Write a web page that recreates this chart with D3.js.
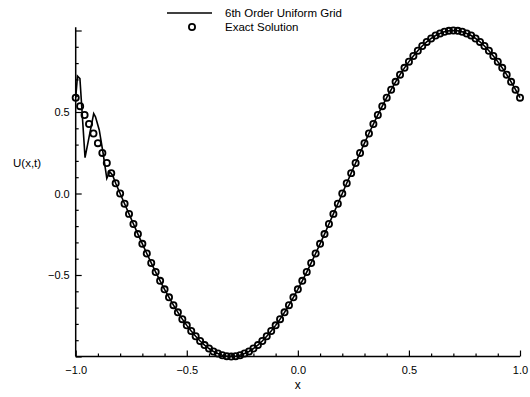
<!DOCTYPE html>
<html>
<head>
<meta charset="utf-8">
<script src="https://cdn.jsdelivr.net/npm/d3@7"></script>
<style>
  html, body { margin: 0; padding: 0; background: #fff; }
  svg { display: block; font-family: "Liberation Sans", Arial, Helvetica, sans-serif; }
</style>
</head>
<body>
<svg id="chart" width="530" height="397"></svg>
<script>
// ---- Data ----
// Exact solution sampled at x = -1.00, -0.98, ..., 1.00
const exactX = [
  -1.00,-0.98,-0.96,-0.94,-0.92,-0.90,-0.88,-0.86,-0.84,-0.82,
  -0.80,-0.78,-0.76,-0.74,-0.72,-0.70,-0.68,-0.66,-0.64,-0.62,
  -0.60,-0.58,-0.56,-0.54,-0.52,-0.50,-0.48,-0.46,-0.44,-0.42,
  -0.40,-0.38,-0.36,-0.34,-0.32,-0.30,-0.28,-0.26,-0.24,-0.22,
  -0.20,-0.18,-0.16,-0.14,-0.12,-0.10,-0.08,-0.06,-0.04,-0.02,
   0.00, 0.02, 0.04, 0.06, 0.08, 0.10, 0.12, 0.14, 0.16, 0.18,
   0.20, 0.22, 0.24, 0.26, 0.28, 0.30, 0.32, 0.34, 0.36, 0.38,
   0.40, 0.42, 0.44, 0.46, 0.48, 0.50, 0.52, 0.54, 0.56, 0.58,
   0.60, 0.62, 0.64, 0.66, 0.68, 0.70, 0.72, 0.74, 0.76, 0.78,
   0.80, 0.82, 0.84, 0.86, 0.88, 0.90, 0.92, 0.94, 0.96, 0.98,
   1.00
];
const exactU = [
   0.588, 0.536, 0.482, 0.426, 0.368, 0.309, 0.249, 0.187, 0.125, 0.063,
   0.000,-0.063,-0.125,-0.187,-0.249,-0.309,-0.368,-0.426,-0.482,-0.536,
  -0.588,-0.637,-0.685,-0.729,-0.771,-0.809,-0.844,-0.876,-0.905,-0.930,
  -0.951,-0.969,-0.982,-0.992,-0.998,-1.000,-0.998,-0.992,-0.982,-0.969,
  -0.951,-0.930,-0.905,-0.876,-0.844,-0.809,-0.771,-0.729,-0.685,-0.637,
  -0.588,-0.536,-0.482,-0.426,-0.368,-0.309,-0.249,-0.187,-0.125,-0.063,
   0.000, 0.063, 0.125, 0.187, 0.249, 0.309, 0.368, 0.426, 0.482, 0.536,
   0.588, 0.637, 0.685, 0.729, 0.771, 0.809, 0.844, 0.876, 0.905, 0.930,
   0.951, 0.969, 0.982, 0.992, 0.998, 1.000, 0.998, 0.992, 0.982, 0.969,
   0.951, 0.930, 0.905, 0.876, 0.844, 0.809, 0.771, 0.729, 0.685, 0.637,
   0.588
];
// 6th order uniform grid solution: oscillatory part near the left boundary
const numOscX = [-1.000,-0.992,-0.981,-0.958,-0.919,-0.911,-0.894,-0.877,-0.860,-0.847,-0.834,-0.820];
const numOscU = [ 0.588, 0.720, 0.705, 0.220, 0.490, 0.470, 0.390, 0.250, 0.093, 0.133, 0.112, 0.063];
// beyond x = -0.82 the numerical solution coincides with the exact one
const numJoinX = -0.82;

const xTicksMajor = [-1.0, -0.5, 0.0, 0.5, 1.0];
const xTicksMinor = [-0.9,-0.8,-0.7,-0.6,-0.4,-0.3,-0.2,-0.1,0.1,0.2,0.3,0.4,0.6,0.7,0.8,0.9];
const yTicksMajor = [-1.0, -0.5, 0.0, 0.5, 1.0];
const yTickLabels = [-0.5, 0.0, 0.5];
const yTicksMinor = [-0.9,-0.8,-0.7,-0.6,-0.4,-0.3,-0.2,-0.1,0.1,0.2,0.3,0.4,0.6,0.7,0.8,0.9];

const legendLabels = ["6th Order Uniform Grid", "Exact Solution"];
const xLabel = "x";
const yLabel = "U(x,t)";

// ---- Chart ----
const svg = d3.select("#chart");
const x = d3.scaleLinear().domain([-1, 1]).range([75.7, 520]);
const y = d3.scaleLinear().domain([-1, 1]).range([356.5, 30.5]);
const yTop = 1.02;

const fmt = d3.format(".1f");
const fmtTick = v => (Math.abs(v) < 1e-9 ? "0.0" : fmt(v));
const FONT = '"Liberation Sans", Arial, sans-serif';

// x axis minor
svg.append("g").attr("transform", `translate(0,${y(-1)})`)
  .call(d3.axisBottom(x).tickValues(xTicksMinor).tickSizeInner(-3).tickSizeOuter(0).tickFormat(""))
  .call(g => g.select(".domain").remove())
  .call(g => g.selectAll("line").attr("stroke", "#000").attr("stroke-width", 1.2));
// x axis major
svg.append("g").attr("transform", `translate(0,${y(-1)})`)
  .call(d3.axisBottom(x).tickValues(xTicksMajor).tickSizeInner(-6).tickSizeOuter(0).tickPadding(10).tickFormat(fmtTick))
  .call(g => g.select(".domain").remove())
  .call(g => g.selectAll("line").attr("stroke", "#000").attr("stroke-width", 1.2))
  .call(g => g.selectAll("text").attr("fill", "#000").attr("font-size", 11).attr("font-family", FONT));

// y axis minor
svg.append("g").attr("transform", `translate(${x(-1)},0)`)
  .call(d3.axisLeft(y).tickValues(yTicksMinor).tickSizeInner(-3).tickSizeOuter(0).tickFormat(""))
  .call(g => g.select(".domain").remove())
  .call(g => g.selectAll("line").attr("stroke", "#000").attr("stroke-width", 1.2));
// y axis major
svg.append("g").attr("transform", `translate(${x(-1)},0)`)
  .call(d3.axisLeft(y).tickValues(yTicksMajor).tickSizeInner(-6).tickSizeOuter(0).tickPadding(6)
      .tickFormat(v => yTickLabels.some(t => Math.abs(t - v) < 1e-9) ? fmtTick(v) : ""))
  .call(g => g.select(".domain").remove())
  .call(g => g.selectAll("line").attr("stroke", "#000").attr("stroke-width", 1.2))
  .call(g => g.selectAll("text").attr("fill", "#000").attr("font-size", 11).attr("font-family", FONT));

// axis lines
svg.append("line").attr("x1", x(-1)).attr("x2", x(-1)).attr("y1", y(-1)).attr("y2", y(yTop))
  .attr("stroke", "#000").attr("stroke-width", 1.5);
svg.append("line").attr("x1", x(-1)).attr("x2", x(1)).attr("y1", y(-1)).attr("y2", y(-1))
  .attr("stroke", "#000").attr("stroke-width", 1.5);

// exact solution circles (open, the solution line shows through)
svg.append("g").selectAll("circle")
  .data(exactX.map((v, i) => [v, exactU[i]]))
  .join("circle")
  .attr("cx", d => x(d[0])).attr("cy", d => y(d[1])).attr("r", 3.1)
  .attr("fill", "none").attr("stroke", "#000").attr("stroke-width", 1.8);

// numerical solution line
const numPts = numOscX.map((v, i) => [v, numOscU[i]])
  .concat(exactX.map((v, i) => [v, exactU[i]]).filter(d => d[0] > numJoinX + 1e-9));
const line = d3.line().x(d => x(d[0])).y(d => y(d[1]));
svg.append("path").datum(numPts).attr("d", line)
  .attr("fill", "none").attr("stroke", "#000").attr("stroke-width", 1.6).attr("stroke-linejoin", "miter");

// axis titles
svg.append("text").attr("x", x(0)).attr("y", 389).attr("text-anchor", "middle")
  .attr("font-size", 12).attr("font-family", FONT).text(xLabel);
svg.append("text").attr("x", 13).attr("y", 167).attr("font-size", 11.5).attr("font-family", FONT).text(yLabel);

// legend
const lg = svg.append("g");
lg.append("line").attr("x1", 167).attr("x2", 212).attr("y1", 13).attr("y2", 13)
  .attr("stroke", "#000").attr("stroke-width", 1.6);
lg.append("circle").attr("cx", 192).attr("cy", 27).attr("r", 3.1)
  .attr("fill", "#fff").attr("stroke", "#000").attr("stroke-width", 1.8);
lg.selectAll("text").data(legendLabels).join("text")
  .attr("x", 225).attr("y", (d, i) => 17 + i * 14)
  .attr("font-size", 11.5).attr("font-family", FONT).text(d => d);
</script>
</body>
</html>
